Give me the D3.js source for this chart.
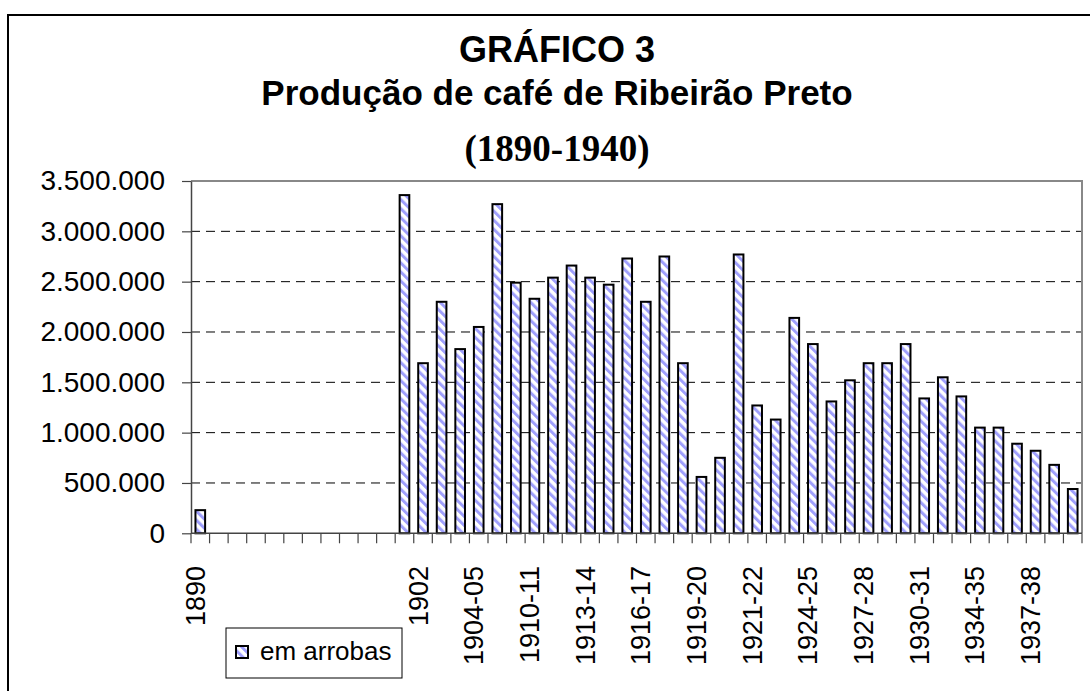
<!DOCTYPE html>
<html>
<head>
<meta charset="utf-8">
<script src="https://cdn.jsdelivr.net/npm/d3@7"></script>
<style>
  body { margin: 0; background: #fff; }
  text { font-family: "Liberation Sans", Arial, sans-serif; fill: #000; }
</style>
</head>
<body>
<div id="chart"></div>
<script>
// Categories (crop years); blank ones are years with no entry
const categories = [
  "1890", "", "", "", "", "", "", "", "", "", "",
  "1901", "1902", "1902-03", "1903-04", "1904-05", "1905-06", "1909-10",
  "1910-11", "1911-12", "1912-13", "1913-14", "1914-15", "1915-16",
  "1916-17", "1917-18", "1918-19", "1919-20", "1920-21", "1921",
  "1921-22", "1922-23", "1923-24", "1924-25", "1925-26", "1926-27",
  "1927-28", "1928-29", "1929-30", "1930-31", "1931-32", "1933-34",
  "1934-35", "1935-36", "1936-37", "1937-38", "1938-39", "1939-40"
];

// Coffee production, em arrobas
const production = [
  230000, null, null, null, null, null, null, null, null, null, null,
  3360000, 1690000, 2300000, 1830000, 2050000, 3270000, 2490000,
  2330000, 2540000, 2660000, 2540000, 2470000, 2730000,
  2300000, 2750000, 1690000, 560000, 750000, 2770000,
  1270000, 1130000, 2140000, 1880000, 1310000, 1520000,
  1690000, 1690000, 1880000, 1340000, 1550000, 1360000,
  1050000, 1050000, 890000, 820000, 680000, 440000
];

const yTicks = [0, 500000, 1000000, 1500000, 2000000, 2500000, 3000000, 3500000];
const titleLines = ["GRÁFICO 3", "Produção de café de Ribeirão Preto", "(1890-1940)"];
const seriesName = "em arrobas";

const W = 1090, H = 691;
const plot = {left: 191, right: 1082, top: 181, bottom: 533.3};

const svg = d3.select("#chart")
  .append("svg")
    .attr("width", W)
    .attr("height", H);

// Stripe pattern for the bars
const defs = svg.append("defs");
const pat = defs.append("pattern")
    .attr("id", "stripes")
    .attr("patternUnits", "userSpaceOnUse")
    .attr("width", 6.4)
    .attr("height", 6.4)
    .attr("patternTransform", "rotate(-45)");
pat.append("rect").attr("width", 6.4).attr("height", 6.4).attr("fill", "#fff");
pat.append("rect").attr("width", 3).attr("height", 6.4).attr("fill", "#9f9ffc");

svg.append("rect")
    .attr("width", W).attr("height", H).attr("fill", "#fff");

// Outer chart frame
svg.append("rect")
    .attr("x", 8).attr("y", 15)
    .attr("width", 1110).attr("height", 700)
    .attr("fill", "none")
    .attr("stroke", "#000")
    .attr("stroke-width", 2);

// Titles
const cx = 557;
svg.append("text").attr("x", cx).attr("y", 62)
    .attr("text-anchor", "middle").style("font-size", "36px").style("font-weight", "bold")
    .text(titleLines[0]);
svg.append("text").attr("x", cx).attr("y", 105)
    .attr("text-anchor", "middle").style("font-size", "35px").style("font-weight", "bold")
    .text(titleLines[1]);
svg.append("text").attr("x", cx).attr("y", 161)
    .attr("text-anchor", "middle").style("font-size", "37px").style("font-weight", "bold")
    .style("font-family", "'Liberation Serif', 'Times New Roman', serif")
    .text(titleLines[2]);

// Scales
const x = d3.scaleBand()
  .domain(d3.range(categories.length))
  .range([plot.left, plot.right])
  .paddingInner(0.48)
  .paddingOuter(0.24);

const y = d3.scaleLinear()
  .domain([0, 3500000])
  .range([plot.bottom, plot.top]);

const fmt = d3.formatLocale({decimal: ",", thousands: ".", grouping: [3], currency: ["R$", ""]}).format(",");

// Gridlines
svg.append("g")
  .selectAll("line")
  .data(yTicks.filter(d => d > 0 && d < 3500000))
  .join("line")
    .attr("x1", plot.left).attr("x2", plot.right)
    .attr("y1", d => y(d)).attr("y2", d => y(d))
    .attr("stroke", "#000")
    .attr("stroke-width", 1)
    .attr("stroke-dasharray", "9,6");

// Plot border top / right
svg.append("path")
    .attr("d", `M${plot.left},${plot.top}H${plot.right}V${plot.bottom}`)
    .attr("fill", "none")
    .attr("stroke", "#888")
    .attr("stroke-width", 2);

// Bars
svg.append("g")
  .selectAll("rect")
  .data(production.map((v, i) => ({i, v})).filter(d => d.v != null))
  .join("rect")
    .attr("x", d => x(d.i))
    .attr("y", d => y(d.v))
    .attr("width", x.bandwidth())
    .attr("height", d => y(0) - y(d.v))
    .attr("fill", "url(#stripes)")
    .attr("stroke", "#000")
    .attr("stroke-width", 2);

// Y axis
const yAxis = svg.append("g")
    .attr("transform", `translate(${plot.left},0)`)
    .call(d3.axisLeft(y).tickValues(yTicks).tickFormat(fmt).tickSize(9).tickPadding(17).tickSizeOuter(0));
yAxis.select(".domain").attr("stroke", "#444").attr("stroke-width", 1.5);
yAxis.selectAll(".tick line").attr("stroke", "#444").attr("stroke-width", 1.2);
yAxis.selectAll("text")
    .style("font-size", "28px")
    .style("font-family", "'Liberation Sans', Arial, sans-serif")
    .attr("fill", "#000");

// X axis line and tick marks at category boundaries
const step = x.step();
const gap = (step - x.bandwidth()) / 2;
const bounds = d3.range(categories.length).map(i => x(i) - gap).concat([plot.right]);
svg.append("line")
    .attr("x1", plot.left).attr("x2", plot.right)
    .attr("y1", y(0)).attr("y2", y(0))
    .attr("stroke", "#444").attr("stroke-width", 1.5);
svg.append("g")
  .selectAll("line")
  .data(bounds)
  .join("line")
    .attr("x1", d => d).attr("x2", d => d)
    .attr("y1", y(0)).attr("y2", y(0) + 10)
    .attr("stroke", "#444").attr("stroke-width", 1.2);

// X labels, every third category
svg.append("g")
  .selectAll("text")
  .data(categories.map((c, i) => ({c, i})).filter(d => d.i % 3 === 0 && d.c !== ""))
  .join("text")
    .attr("transform", d => `translate(${x(d.i) + x.bandwidth() / 2 + 4.5},566) rotate(-90)`)
    .attr("text-anchor", "end")
    .style("font-size", "27px")
    .text(d => d.c);

// Legend
const lg = svg.append("g");
lg.append("rect")
    .attr("x", 226).attr("y", 628).attr("width", 176).attr("height", 50)
    .attr("fill", "#fff").attr("stroke", "#000").attr("stroke-width", 1);
lg.append("rect")
    .attr("x", 236).attr("y", 646).attr("width", 12).attr("height", 12)
    .attr("fill", "url(#stripes)").attr("stroke", "#000").attr("stroke-width", 2);
lg.append("text")
    .attr("x", 260).attr("y", 660)
    .style("font-size", "26px")
    .text(seriesName);
</script>
</body>
</html>
